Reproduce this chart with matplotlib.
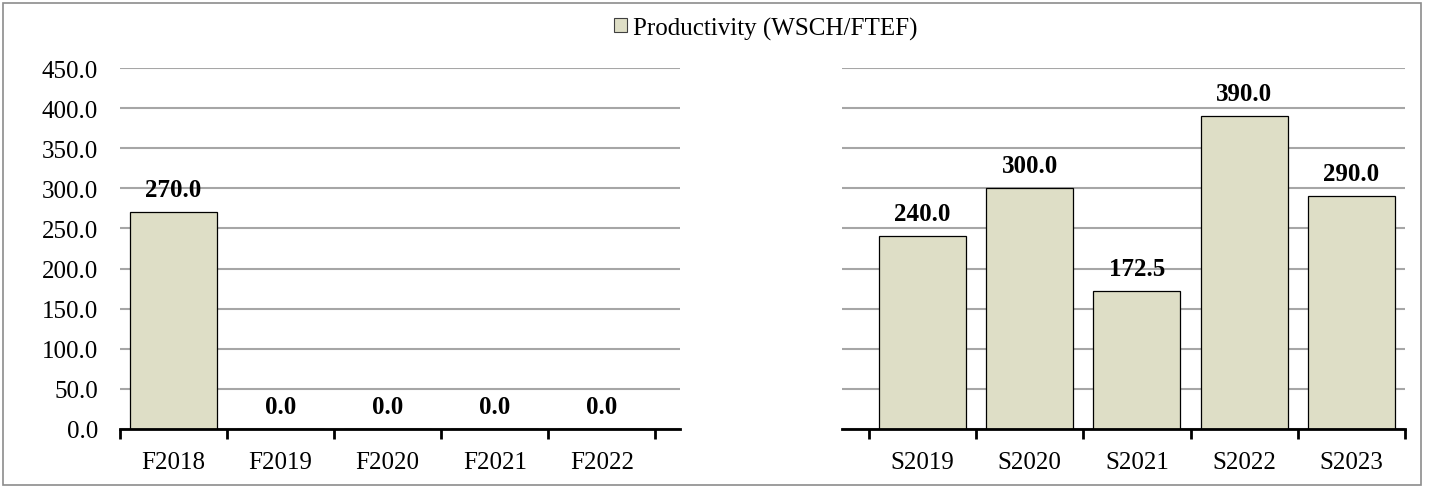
"""
Productivity (WSCH/FTEF) by term, fall vs spring.
"""
import numpy as np
import matplotlib.pyplot as plt
from matplotlib.patches import Rectangle

fall_terms = ['F2018', 'F2019', 'F2020', 'F2021', 'F2022']
fall_values = [270.0, 0.0, 0.0, 0.0, 0.0]
spring_terms = ['S2019', 'S2020', 'S2021', 'S2022', 'S2023']
spring_values = [240.0, 300.0, 172.5, 390.0, 290.0]
y_ticks = [0, 50, 100, 150, 200, 250, 300, 350, 400, 450]

BAR_COLOR = '#DEDEC6'
GRID_COLOR = '#A6A6A6'
FS = 18

plt.rcParams['font.family'] = ['Liberation Serif', 'DejaVu Serif']

W, H = 1430, 489
fig = plt.figure(figsize=(W / 100, H / 100), dpi=100)

# axes positions in pixels (left, right); both share the same vertical extent
bottom_px, top_px = 430, 69
ax_left = fig.add_axes([120 / W, 1 - bottom_px / H, 560 / W, (bottom_px - top_px) / H])
ax_right = fig.add_axes([842 / W, 1 - bottom_px / H, 563 / W, (bottom_px - top_px) / H])


def draw_panel(ax, terms, values, xlim, show_y):
    x = np.arange(len(terms))
    bars = ax.bar(x, values, width=0.81, color=BAR_COLOR, edgecolor='black',
                  linewidth=0.9, zorder=3)
    for b, v in zip(bars, values):
        ax.annotate(f'{v:.1f}', (b.get_x() + b.get_width() / 2, v),
                    xytext=(0, 8), textcoords='offset points',
                    ha='center', va='bottom', fontsize=FS, fontweight='bold')
    ax.set_xlim(*xlim)
    ax.set_ylim(0, 450)
    ax.set_yticks(y_ticks)
    ax.yaxis.grid(True, color=GRID_COLOR, linewidth=1.5, zorder=0)
    ax.set_axisbelow(True)
    for s in ['left', 'right', 'top']:
        ax.spines[s].set_visible(False)
    ax.spines['bottom'].set_linewidth(2)
    ax.spines['bottom'].set_zorder(4)
    # major ticks at category boundaries, labels on minor ticks at centers
    ax.set_xticks(np.arange(len(terms) + 1) - 0.5)
    ax.set_xticklabels([])
    ax.tick_params(axis='x', which='major', length=7, width=2, direction='out')
    ax.set_xticks(x, minor=True)
    ax.set_xticklabels(terms, minor=True, fontsize=FS)
    ax.tick_params(axis='x', which='minor', length=0, pad=16)
    if show_y:
        ax.set_yticklabels([f'{t:.1f}' for t in y_ticks], fontsize=FS)
        ax.tick_params(axis='y', length=0, pad=16)
    else:
        ax.tick_params(axis='y', length=0, labelleft=False)


draw_panel(ax_left, fall_terms, fall_values, (-0.5, 4.73), True)
draw_panel(ax_right, spring_terms, spring_values, (-0.75, 4.5), False)

# legend at the top
handle = Rectangle((0, 0), 1, 1, facecolor=BAR_COLOR, edgecolor='#404040', linewidth=0.8)
fig.legend([handle], ['Productivity (WSCH/FTEF)'], loc='center',
           bbox_to_anchor=(766 / W, 1 - 29 / H), frameon=False, fontsize=FS,
           handlelength=0.5, handleheight=0.5, handletextpad=0.25, borderpad=0)

# outer border of the chart area
fig.patches.append(Rectangle((3 / W, 3 / H), 1418 / W, 482 / H, transform=fig.transFigure,
                             fill=False, edgecolor='#8C8C8C', linewidth=1.2))

plt.savefig('out.png', dpi=100)
